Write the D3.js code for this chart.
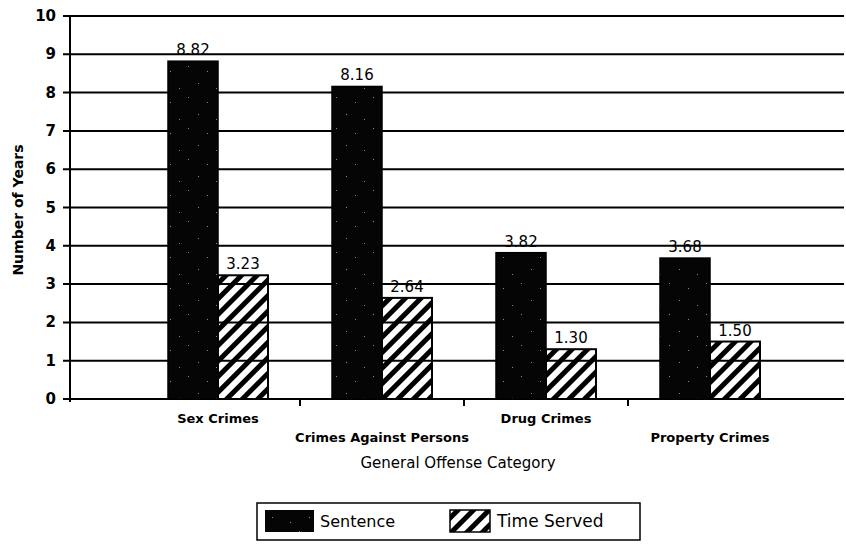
<!DOCTYPE html>
<html>
<head>
<meta charset="utf-8">
<script src="https://cdn.jsdelivr.net/npm/d3@7"></script>
<style>
  body { margin: 0; background: #fff; }
  text { font-family: "DejaVu Sans", sans-serif; font-weight: bold; fill: #000; }
</style>
</head>
<body>
<div id="chart"></div>
<script>
var categories = ["Sex Crimes", "Crimes Against Persons", "Drug Crimes", "Property Crimes"];
var sentence = [8.82, 8.16, 3.82, 3.68];
var timeServed = [3.23, 2.64, 1.30, 1.50];
var sentenceLabels = ["8.82", "8.16", "3.82", "3.68"];
var servedLabels = ["3.23", "2.64", "1.30", "1.50"];
var yTicks = [0, 1, 2, 3, 4, 5, 6, 7, 8, 9, 10];

var width = 846, height = 546;

var svg = d3.select("#chart")
  .append("svg")
    .attr("width", width)
    .attr("height", height);

var defs = svg.append("defs");

// hatch for time served
var hatch = defs.append("pattern")
    .attr("id", "hatch")
    .attr("patternUnits", "userSpaceOnUse")
    .attr("width", 11)
    .attr("height", 11)
    .attr("patternTransform", "rotate(45)");
hatch.append("rect")
    .attr("x", 0).attr("y", 0)
    .attr("width", 5).attr("height", 11)
    .attr("fill", "#000");

// dark speckled fill for sentence
var speck = defs.append("pattern")
    .attr("id", "speck")
    .attr("patternUnits", "userSpaceOnUse")
    .attr("width", 37)
    .attr("height", 31);
speck.append("rect")
    .attr("width", 37).attr("height", 31)
    .attr("fill", "#050505");
[[3, 4], [22, 9], [13, 21], [31, 26]].forEach(function(p) {
  speck.append("rect")
    .attr("x", p[0]).attr("y", p[1])
    .attr("width", 1).attr("height", 1)
    .attr("fill", "#888");
});

var x = d3.scaleBand()
  .domain(categories)
  .range([136, 792]);

var y = d3.scaleLinear()
  .domain([0, 10])
  .range([399, 16]);

var left = 70, right = 844;

// gridlines
svg.append("g")
  .selectAll("line")
  .data(yTicks)
  .enter()
  .append("line")
    .attr("x1", left - 7)
    .attr("x2", right)
    .attr("y1", function(d) { return y(d); })
    .attr("y2", function(d) { return y(d); })
    .attr("stroke", "#000")
    .attr("stroke-width", 2);

// y axis line
svg.append("line")
  .attr("x1", left).attr("x2", left)
  .attr("y1", y(10)).attr("y2", y(0) + 3)
  .attr("stroke", "#000")
  .attr("stroke-width", 2);

svg.append("g")
  .selectAll("text")
  .data(yTicks)
  .enter()
  .append("text")
    .attr("x", 56)
    .attr("y", function(d) { return y(d) + 5; })
    .attr("text-anchor", "end")
    .style("font-size", "15px")
    .text(function(d) { return d; });

// x tick marks between categories
svg.append("g")
  .selectAll("line")
  .data(categories.slice(1))
  .enter()
  .append("line")
    .attr("x1", function(d) { return x(d); })
    .attr("x2", function(d) { return x(d); })
    .attr("y1", y(0))
    .attr("y2", y(0) + 7)
    .attr("stroke", "#000")
    .attr("stroke-width", 2);

var barW = 50;

// sentence bars
svg.append("g")
  .selectAll("rect")
  .data(categories)
  .enter()
  .append("rect")
    .attr("x", function(d) { return x(d) + x.bandwidth() / 2 - barW; })
    .attr("y", function(d, i) { return y(sentence[i]); })
    .attr("width", barW)
    .attr("height", function(d, i) { return y(0) - y(sentence[i]); })
    .attr("fill", "url(#speck)")
    .attr("stroke", "#000")
    .attr("stroke-width", 1.5);

// time served bars
svg.append("g")
  .selectAll("rect")
  .data(categories)
  .enter()
  .append("rect")
    .attr("x", function(d) { return x(d) + x.bandwidth() / 2; })
    .attr("y", function(d, i) { return y(timeServed[i]); })
    .attr("width", barW)
    .attr("height", function(d, i) { return y(0) - y(timeServed[i]); })
    .attr("fill", "url(#hatch)")
    .attr("stroke", "#000")
    .attr("stroke-width", 2);

// value labels
svg.append("g")
  .selectAll("text")
  .data(categories)
  .enter()
  .append("text")
    .attr("x", function(d) { return x(d) + x.bandwidth() / 2 - barW / 2; })
    .attr("y", function(d, i) { return y(sentence[i]) - 6; })
    .attr("text-anchor", "middle")
    .style("font-size", "15px")
    .style("font-weight", "normal")
    .text(function(d, i) { return sentenceLabels[i]; });

svg.append("g")
  .selectAll("text")
  .data(categories)
  .enter()
  .append("text")
    .attr("x", function(d) { return x(d) + x.bandwidth() / 2 + barW / 2; })
    .attr("y", function(d, i) { return y(timeServed[i]) - 6; })
    .attr("text-anchor", "middle")
    .style("font-size", "15px")
    .style("font-weight", "normal")
    .text(function(d, i) { return servedLabels[i]; });

// category labels, staggered
svg.append("g")
  .selectAll("text")
  .data(categories)
  .enter()
  .append("text")
    .attr("x", function(d) { return x(d) + x.bandwidth() / 2; })
    .attr("y", function(d, i) { return i % 2 === 0 ? 423 : 442; })
    .attr("text-anchor", "middle")
    .style("font-size", "13px")
    .text(function(d) { return d; });

svg.append("text")
  .attr("x", 458)
  .attr("y", 468)
  .attr("text-anchor", "middle")
  .style("font-size", "15px")
  .style("font-weight", "normal")
  .text("General Offense Category");

svg.append("text")
  .attr("transform", "translate(23,210)rotate(-90)")
  .attr("text-anchor", "middle")
  .style("font-size", "14px")
  .text("Number of Years");

// legend
var legend = svg.append("g");
legend.append("rect")
  .attr("x", 257).attr("y", 503)
  .attr("width", 383).attr("height", 37)
  .attr("fill", "#fff")
  .attr("stroke", "#000")
  .attr("stroke-width", 1.5);
legend.append("rect")
  .attr("x", 265).attr("y", 510)
  .attr("width", 49).attr("height", 22)
  .attr("fill", "url(#speck)");
legend.append("text")
  .attr("x", 320).attr("y", 527)
  .style("font-size", "16px")
  .style("font-weight", "normal")
  .text("Sentence");
legend.append("rect")
  .attr("x", 450).attr("y", 510)
  .attr("width", 40).attr("height", 22)
  .attr("fill", "url(#hatch)")
  .attr("stroke", "#000")
  .attr("stroke-width", 1.5);
legend.append("text")
  .attr("x", 497).attr("y", 527)
  .style("font-size", "17px")
  .style("font-weight", "normal")
  .text("Time Served");
</script>
</body>
</html>
